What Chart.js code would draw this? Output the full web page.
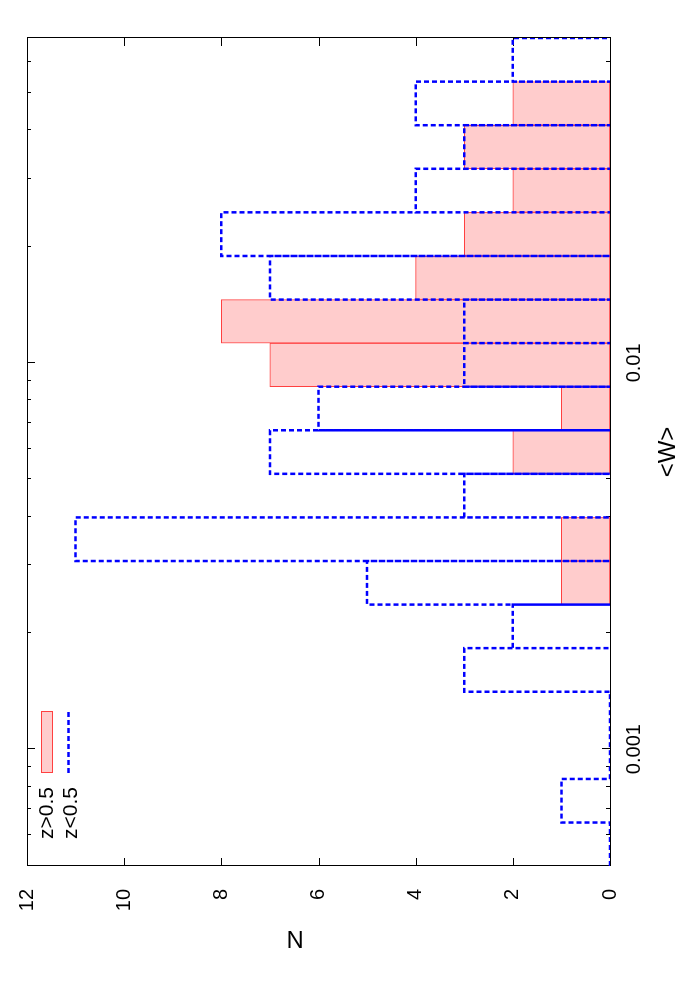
<!DOCTYPE html>
<html>
<head>
<meta charset="utf-8">
<script src="https://cdn.jsdelivr.net/npm/chart.js@4.4.1/dist/chart.umd.min.js"></script>
<style>
    html, body { margin: 0; padding: 0; background: #fff; }
    /* the plot is built landscape and turned a quarter turn, like the original page */
    #wrap {
        position: absolute;
        left: 0;
        top: 0;
        width: 1000px;
        height: 700px;
        transform-origin: 0 0;
        transform: translate(0, 1000px) rotate(-90deg);
    }
</style>
</head>
<body>
<div id="wrap"><canvas id="histChart" width="1000" height="700"></canvas></div>
<script>
// bin edges in <W> (equal steps in log10)
const binEdges = [0.0004983, 0.0006457, 0.0008372, 0.001086, 0.001408, 0.001826, 0.002367,
    0.003069, 0.003980, 0.005161, 0.006691, 0.008675, 0.01125, 0.01458, 0.01891, 0.02453,
    0.03180, 0.04123, 0.05346, 0.06934];
// counts per bin, lowest <W> first
const highZ = [0, 0, 0, 0, 0, 0, 1, 1, 0, 2, 1, 7, 8, 4, 3, 2, 3, 2, 0];
const lowZ = [0, 1, 0, 0, 3, 2, 5, 11, 3, 7, 6, 3, 3, 7, 8, 4, 3, 4, 2];
const seriesLabels = ['z>0.5', 'z<0.5'];
const wMajor = [0.001, 0.01];
const wMinor = [0.0006, 0.0007, 0.0008, 0.0009, 0.002, 0.003, 0.004, 0.005, 0.006, 0.007,
    0.008, 0.009, 0.02, 0.03, 0.04, 0.05, 0.06];
const nTicks = [0, 2, 4, 6, 8, 10, 12];

const FONT = "'Liberation Sans', Arial, sans-serif";
const PINK = 'rgb(255, 204, 204)';
const RED = 'rgb(255, 64, 64)';
const BLUE = 'rgb(0, 0, 255)';
const DASH = [5, 3];

// filled boxes sit on the bin centres
const highZBars = highZ.map((n, i) => ({ x: Math.sqrt(binEdges[i] * binEdges[i + 1]), y: n }));

// dashed boxes: trace every bin as its own rectangle
const lowZOutline = [];
lowZ.forEach((n, i) => {
    lowZOutline.push({ x: binEdges[i], y: 0 }, { x: binEdges[i], y: n },
        { x: binEdges[i + 1], y: n }, { x: binEdges[i + 1], y: 0 });
});

// frame with inward ticks on all four sides
const frameTicks = {
    id: 'frameTicks',
    beforeDatasetsDraw(chart) {
        const { ctx, chartArea: a, scales: { x, y } } = chart;
        ctx.save();
        ctx.strokeStyle = '#000';
        ctx.lineWidth = 1;
        ctx.beginPath();
        nTicks.forEach(v => {
            const py = Math.round(y.getPixelForValue(v)) + 0.5;
            ctx.moveTo(a.left, py); ctx.lineTo(a.left + 8, py);
            ctx.moveTo(a.right, py); ctx.lineTo(a.right - 8, py);
        });
        wMajor.forEach(v => {
            const px = Math.round(x.getPixelForValue(v)) + 0.5;
            ctx.moveTo(px, a.top); ctx.lineTo(px, a.top + 8);
            ctx.moveTo(px, a.bottom); ctx.lineTo(px, a.bottom - 8);
        });
        wMinor.forEach(v => {
            const px = Math.round(x.getPixelForValue(v)) + 0.5;
            ctx.moveTo(px, a.top); ctx.lineTo(px, a.top + 4);
            ctx.moveTo(px, a.bottom); ctx.lineTo(px, a.bottom - 4);
        });
        ctx.stroke();
        ctx.strokeRect(a.left + 0.5, a.top + 0.5, a.width, a.height);
        ctx.restore();
    }
};

// key in the corner, text left of the sample
const cornerKey = {
    id: 'cornerKey',
    afterDraw(chart) {
        const ctx = chart.ctx;
        ctx.save();
        ctx.font = '21px ' + FONT;
        ctx.fillStyle = '#000';
        ctx.textAlign = 'right';
        ctx.textBaseline = 'alphabetic';
        ctx.fillText(seriesLabels[0], 213, 53);
        ctx.fillText(seriesLabels[1], 213, 77);

        ctx.fillStyle = PINK;
        ctx.fillRect(227, 41, 62, 11);
        ctx.strokeStyle = RED;
        ctx.lineWidth = 1;
        ctx.strokeRect(227.5, 41.5, 61, 11);

        ctx.strokeStyle = BLUE;
        ctx.lineWidth = 2.5;
        ctx.setLineDash(DASH);
        ctx.beginPath();
        ctx.moveTo(227, 68.5);
        ctx.lineTo(289, 68.5);
        ctx.stroke();
        ctx.restore();
    }
};

const histChart = new Chart(document.getElementById('histChart').getContext('2d'), {
    type: 'bar',
    data: {
        datasets: [{
            type: 'line',
            label: seriesLabels[1],
            data: lowZOutline,
            order: 0,
            borderColor: BLUE,
            borderWidth: 2.5,
            borderDash: DASH,
            pointRadius: 0,
            fill: false,
            tension: 0
        }, {
            type: 'bar',
            label: seriesLabels[0],
            data: highZBars,
            order: 1,
            backgroundColor: PINK,
            borderColor: RED,
            borderWidth: 1,
            borderSkipped: false,
            barPercentage: 1,
            categoryPercentage: 1
        }]
    },
    options: {
        responsive: false,
        animation: false,
        layout: {
            padding: { top: 26, right: 38, left: 0, bottom: 0 }
        },
        scales: {
            x: {
                type: 'logarithmic',
                min: binEdges[0],
                max: binEdges[binEdges.length - 1],
                grid: { display: false },
                border: { display: false },
                afterBuildTicks: scale => {
                    scale.ticks = wMajor.map(v => ({ value: v }));
                },
                afterFit: scale => { scale.height = 90; },
                ticks: {
                    padding: 4,
                    color: '#000',
                    font: { family: FONT, size: 20 },
                    callback: v => String(v)
                },
                title: {
                    display: true,
                    text: '<W>',
                    color: '#000',
                    font: { family: FONT, size: 24 },
                    padding: { top: 0, bottom: 17 }
                }
            },
            y: {
                min: 0,
                max: 12,
                grid: { display: false },
                border: { display: false },
                afterFit: scale => { scale.width = 134; },
                ticks: {
                    stepSize: 2,
                    padding: 15,
                    color: '#000',
                    font: { family: FONT, size: 20 }
                },
                title: {
                    display: true,
                    text: '       N',
                    color: '#000',
                    font: { family: FONT, size: 24 },
                    padding: { top: 48, bottom: 0 }
                }
            }
        },
        plugins: {
            legend: { display: false },
            tooltip: { enabled: false }
        }
    },
    plugins: [frameTicks, cornerKey]
});
</script>
</body>
</html>
